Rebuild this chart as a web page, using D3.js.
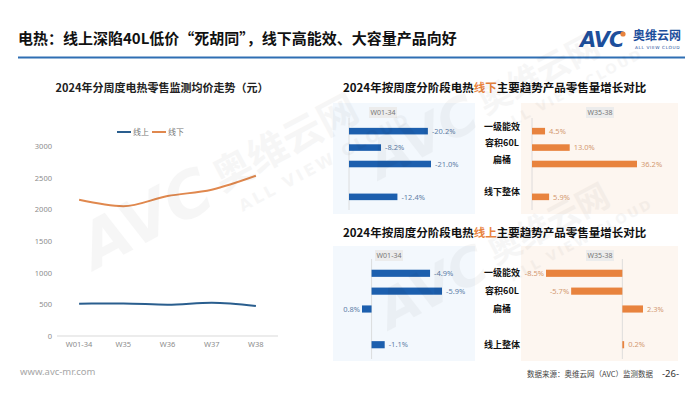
<!DOCTYPE html>
<html lang="zh">
<head>
<meta charset="utf-8">
<title>电热 AVC</title>
<style>
  body{margin:0;background:#fff;}
  svg{display:block;font-family:"Noto Sans CJK SC","Noto Sans",sans-serif;}
  .tick-lbl{fill:#8c8c8c;font-size:7.5px;font-family:"Noto Sans",sans-serif;}
  .val{font-size:7.5px;font-family:"Noto Sans",sans-serif;}
  .cat{font-size:9px;font-weight:bold;fill:#111;}
</style>
</head>
<body>
<div id="chart"></div>
<script src="https://cdnjs.cloudflare.com/ajax/libs/d3/7.8.5/d3.min.js"></script>
<script>
// weekly average price (yuan)
const weeks = ['W01-34', 'W35', 'W36', 'W37', 'W38'];
const onlinePrice = [510, 515, 495, 525, 475];
const offlinePrice = [2150, 2050, 2210, 2310, 2530];
const priceTicks = [0, 500, 1000, 1500, 2000, 2500, 3000];

// growth of trend products (%)
const offlineCats = ['一级能效', '容积60L', '扁桶', '', '线下整体'];
const onlineCats = ['一级能效', '容积60L', '扁桶', '', '线上整体'];
const offlineW0134 = [-20.2, -8.2, -21.0, null, -12.4];
const offlineW3538 = [4.5, 13.0, 36.2, null, 5.9];
const onlineW0134 = [-4.9, -5.9, 0.8, null, -1.1];
const onlineW3538 = [-8.5, -5.7, 2.3, null, 0.2];
const periods = ['W01-34', 'W35-38'];

const W = 700, H = 394;
const BLUE = '#1c5fae', ORANGE = '#e8833e';

const svg = d3.select('#chart').append('svg').attr('width', W).attr('height', H);

// ---- watermarks
function watermark(x, y, s) {
  const g = svg.append('g').attr('transform', `translate(${x},${y}) rotate(-28) scale(${s})`)
    .attr('fill', '#000').attr('opacity', 0.03);
  g.append('text').attr('font-size', 70).attr('font-weight', 'bold').attr('font-style', 'italic')
    .attr('font-family', 'DejaVu Sans').text('AVC');
  g.append('text').attr('x', 165).attr('y', -10).attr('font-size', 44).attr('font-weight', 'bold').text('奥维云网');
  g.append('text').attr('x', 175).attr('y', 20).attr('font-size', 18).attr('font-weight', 'bold')
    .attr('font-family', 'DejaVu Sans').attr('letter-spacing', 3).text('ALL VIEW CLOUD');
}

// ---- header
svg.append('text').attr('x', 18).attr('y', 44).attr('font-size', 15).attr('font-weight', 'bold')
  .attr('fill', '#111').text('电热：线上深陷40L低价“死胡同”，线下高能效、大容量产品向好');
svg.append('line').attr('x1', 18).attr('x2', 685).attr('y1', 57.5).attr('y2', 57.5)
  .attr('stroke', '#2f6fb3').attr('stroke-width', 2);

// logo
const logo = svg.append('g').attr('transform', 'translate(580,0)');
logo.append('text').attr('x', 0).attr('y', 47).attr('font-size', 21).attr('font-weight', 'bold')
  .attr('font-family', 'DejaVu Sans').attr('font-style', 'italic').attr('fill', '#1d4f9c')
  .attr('letter-spacing', -1).text('AVC');
logo.append('circle').attr('cx', 43).attr('cy', 34).attr('r', 2.6).attr('fill', ORANGE);
logo.append('text').attr('x', 53).attr('y', 40).attr('font-size', 12).attr('font-weight', 'bold')
  .attr('fill', '#1d4f9c').text('奥维云网');
logo.append('text').attr('x', 55).attr('y', 49).attr('font-size', 4.3).attr('fill', '#1d4f9c')
  .attr('font-family', 'DejaVu Sans').attr('letter-spacing', 0.6).text('ALL VIEW CLOUD');

// ---- line chart
svg.append('text').attr('x', 162).attr('y', 92).attr('text-anchor', 'middle').attr('font-size', 11)
  .attr('font-weight', 'bold').attr('fill', '#222').text('2024年分周度电热零售监测均价走势（元）');

const x = d3.scalePoint().domain(weeks).range([57, 278]).padding(0.5);
const y = d3.scaleLinear().domain([0, 3000]).range([336, 146]);

const lc = svg.append('g');
lc.append('line').attr('x1', 57).attr('x2', 278).attr('y1', y(0)).attr('y2', y(0))
  .attr('stroke', '#d9d9d9').attr('stroke-width', 1);
lc.selectAll('.yl').data(priceTicks).enter().append('text').attr('class', 'tick-lbl')
  .attr('x', 52).attr('y', d => y(d) + 3).attr('text-anchor', 'end').text(d => d);
lc.selectAll('.xl').data(weeks).enter().append('text').attr('class', 'tick-lbl')
  .attr('x', d => x(d)).attr('y', 347).attr('text-anchor', 'middle').text(d => d);

const line = d3.line().x((d, i) => x(weeks[i])).y(d => y(d)).curve(d3.curveMonotoneX);
lc.append('path').datum(offlinePrice).attr('d', line).attr('fill', 'none')
  .attr('stroke', '#e0884e').attr('stroke-width', 2);
lc.append('path').datum(onlinePrice).attr('d', line).attr('fill', 'none')
  .attr('stroke', '#2a5e8e').attr('stroke-width', 2);

// legend
const legend = [['线上', '#2a5e8e', 117], ['线下', '#e0884e', 152]];
legend.forEach(([t, c, lx]) => {
  lc.append('line').attr('x1', lx).attr('x2', lx + 14).attr('y1', 132).attr('y2', 132)
    .attr('stroke', c).attr('stroke-width', 2);
  lc.append('text').attr('x', lx + 16).attr('y', 135).attr('font-size', 8).attr('fill', '#777').text(t);
});

// ---- bar panels
function panelTitle(yy, mid) {
  const t = svg.append('text').attr('x', 343).attr('y', yy).attr('font-size', 11.5)
    .attr('font-weight', 'bold').attr('fill', '#111');
  t.append('tspan').text('2024年按周度分阶段电热');
  t.append('tspan').attr('fill', ORANGE).text(mid);
  t.append('tspan').text('主要趋势产品零售量增长对比');
}

function barPanel(opt) {
  const g = svg.append('g');
  g.append('rect').attr('x', opt.bx).attr('y', opt.by).attr('width', opt.bw).attr('height', opt.bh)
    .attr('fill', opt.bg);
  const xs = d3.scaleLinear().domain(opt.domain).range(opt.range);
  const ys = d3.scaleBand().domain(d3.range(opt.values.length)).range(opt.yRange).padding(0.6);
  // period tag
  const tx = opt.tagX;
  g.append('rect').attr('x', tx - 14).attr('y', opt.tagY - 7).attr('width', 28).attr('height', 11)
    .attr('fill', '#ececec');
  g.append('text').attr('x', tx).attr('y', opt.tagY + 1).attr('text-anchor', 'middle')
    .attr('font-size', 7).attr('font-family', 'Noto Sans').attr('fill', '#777').text(opt.tag);
  // axis
  g.append('line').attr('x1', xs(0)).attr('x2', xs(0)).attr('y1', opt.yRange[0]).attr('y2', opt.yRange[1])
    .attr('stroke', '#d6d6d6').attr('stroke-width', 0.8);
  const data = opt.values.map((v, i) => ({ v, i })).filter(d => d.v !== null);
  g.selectAll('.bar').data(data).enter().append('rect')
    .attr('x', d => Math.min(xs(0), xs(d.v)))
    .attr('y', d => ys(d.i))
    .attr('width', d => Math.max(1.2, Math.abs(xs(d.v) - xs(0))))
    .attr('height', ys.bandwidth())
    .attr('fill', opt.color);
  g.selectAll('.val').data(data).enter().append('text').attr('class', 'val')
    .attr('fill', opt.textColor)
    .attr('x', d => xs(d.v) >= xs(0) ? Math.max(xs(d.v), xs(0) + 1.2) + 4 : xs(d.v) - 2)
    .attr('text-anchor', d => xs(d.v) >= xs(0) ? 'start' : 'end')
    .attr('y', d => ys(d.i) + ys.bandwidth() / 2 + 2.7)
    .text(d => d.v.toFixed(1) + '%');
  return ys;
}

function section(o) {
  panelTitle(o.titleY, o.mid);
  const lv = o.left.filter(v => v !== null), rv = o.right.filter(v => v !== null);
  const ys = barPanel({
    bx: 333, by: o.bgY, bw: 142, bh: o.bgH, bg: '#f3f8fd',
    values: o.left, domain: [d3.max([0, ...lv]), d3.min([0, ...lv])],
    range: o.leftRange, yRange: o.yRange, color: BLUE, textColor: '#5f7fa8',
    tag: periods[0], tagX: o.leftTagX, tagY: o.tagY
  });
  barPanel({
    bx: 521, by: o.bgY, bw: 157, bh: o.bgH, bg: '#fdf6f0',
    values: o.right, domain: [d3.min([0, ...rv]), d3.max([0, ...rv])],
    range: o.rightRange, yRange: o.yRange, color: ORANGE, textColor: '#d49a72',
    tag: periods[1], tagX: 600, tagY: o.tagY
  });
  svg.selectAll(null).data(o.cats.map((c, i) => ({ c, i })).filter(d => d.c)).enter()
    .append('text').attr('class', 'cat').attr('x', 502).attr('text-anchor', 'middle')
    .attr('y', d => ys(d.i) + ys.bandwidth() / 2 + 3 + o.catShift).text(d => d.c);
}

section({
  titleY: 92, mid: '线下', bgY: 103, bgH: 111, tagY: 114, leftTagX: 383,
  left: offlineW0134, right: offlineW3538, cats: offlineCats,
  leftRange: [349, 431], rightRange: [532, 637], yRange: [118, 210], catShift: -4.5
});
section({
  titleY: 237, mid: '线上', bgY: 246, bgH: 115, tagY: 257, leftTagX: 389,
  left: onlineW0134, right: onlineW3538, cats: onlineCats,
  leftRange: [362, 442], rightRange: [546, 643], yRange: [259, 359], catShift: 0
});

watermark(95, 270, 0.9);
watermark(380, 180, 0.75);
watermark(390, 330, 0.75);

// ---- footer
svg.append('text').attr('x', 20).attr('y', 375).attr('font-size', 9.5).attr('fill', '#a6a6a6')
  .attr('font-family', 'Noto Sans').text('www.avc-mr.com');
svg.append('text').attr('x', 527).attr('y', 377).attr('font-size', 7.5).attr('fill', '#444')
  .text('数据来源：奥维云网（AVC）监测数据');
svg.append('text').attr('x', 662).attr('y', 377).attr('font-size', 9.5).attr('fill', '#333')
  .attr('font-family', 'Noto Sans').text('-26-');
</script>
</body>
</html>
